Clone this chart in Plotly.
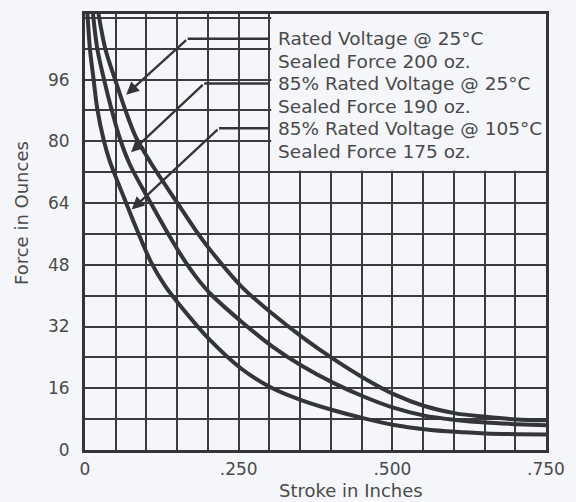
import plotly.graph_objects as go

# ---- data ----
stroke_rated_25 = [0.022, 0.033, 0.049, 0.065, 0.083, 0.108, 0.147, 0.179, 0.204, 0.255,
                   0.305, 0.354, 0.404, 0.454, 0.503, 0.552, 0.603, 0.652, 0.702, 0.750]
force_rated_25 = [113, 104, 96, 88.4, 81, 74.2, 64.8, 57.2, 51.8, 42.3,
                  35.3, 29.2, 23.6, 18.6, 14.4, 11.4, 9.5, 8.6, 7.9, 7.7]

stroke_85_25 = [0.013, 0.020, 0.031, 0.043, 0.057, 0.073, 0.107, 0.134, 0.157, 0.180, 0.204,
                0.255, 0.305, 0.354, 0.404, 0.454, 0.503, 0.552, 0.603, 0.652, 0.702, 0.750]
force_85_25 = [113, 104, 96, 88.4, 80.6, 74, 64, 56.4, 50.3, 45, 40.5,
               33.2, 26.8, 21.7, 17.4, 13.8, 10.9, 8.9, 7.8, 7.1, 6.7, 6.4]

stroke_85_105 = [0.004, 0.008, 0.014, 0.020, 0.030, 0.040, 0.067, 0.086, 0.108, 0.130, 0.154,
                 0.204, 0.255, 0.305, 0.354, 0.404, 0.454, 0.503, 0.552, 0.603, 0.652, 0.702, 0.750]
force_85_105 = [113, 104, 96, 88.4, 80.6, 75, 64, 56.5, 48.5, 42.6, 37.6,
                28.4, 21, 16, 12.8, 10.3, 8.2, 6.5, 5.4, 4.7, 4.3, 4.1, 4.0]

label_line1 = ["Rated Voltage @ 25°C", "85% Rated Voltage @ 25°C", "85% Rated Voltage @ 105°C"]
label_line2 = ["Sealed Force 200 oz.", "Sealed Force 190 oz.", "Sealed Force 175 oz."]
label_y = [106.6, 95.0, 83.4]          # height of each label's leader line
leader_bend_x = [0.167, 0.194, 0.218]  # where leader turns diagonal
arrow_tip_x = [0.067, 0.075, 0.076]
arrow_tip_y = [92.1, 77.2, 62.3]

x_tick_vals = [0, 0.25, 0.5, 0.75]
x_tick_text = ["0", ".250", ".500", ".750"]
y_tick_vals = [0, 16, 32, 48, 64, 80, 96]

X_RANGE = [0, 0.75]
Y_RANGE = [0, 113]
BOX_LEFT = 0.30
BOX_BOTTOM = 72

BG = "#f4f6f9"
INK = "#333538"
GRID = "#3a3c3e"
TEXT = "#4a4a4a"
FONT = "DejaVu Sans"

fig = go.Figure()
for xs, ys in [(stroke_rated_25, force_rated_25),
               (stroke_85_25, force_85_25),
               (stroke_85_105, force_85_105)]:
    fig.add_trace(go.Scatter(
        x=xs, y=ys, mode="lines",
        line=dict(color=INK, width=4, shape="spline", smoothing=0.9),
        showlegend=False, hoverinfo="skip"))

# label box covering the grid in the upper right
fig.add_shape(type="rect", xref="x", yref="y",
              x0=BOX_LEFT + 0.003, x1=X_RANGE[1], y0=BOX_BOTTOM + 0.4, y1=Y_RANGE[1],
              fillcolor=BG, line=dict(width=0), layer="between")

for i in range(3):
    fig.add_shape(type="line", xref="x", yref="y",
                  x0=BOX_LEFT, x1=leader_bend_x[i], y0=label_y[i], y1=label_y[i],
                  line=dict(color=INK, width=2.5))
    fig.add_annotation(x=arrow_tip_x[i], y=arrow_tip_y[i], ax=leader_bend_x[i], ay=label_y[i],
                       xref="x", yref="y", axref="x", ayref="y", text="",
                       showarrow=True, arrowhead=2, arrowsize=1.1, arrowwidth=2.3,
                       arrowcolor=INK)
    fig.add_annotation(x=BOX_LEFT, y=label_y[i], xref="x", yref="y", text=label_line1[i],
                       showarrow=False, xanchor="left", yanchor="middle", xshift=7,
                       font=dict(family=FONT, size=18.5, color=TEXT))
    fig.add_annotation(x=BOX_LEFT, y=label_y[i], xref="x", yref="y", text=label_line2[i],
                       showarrow=False, xanchor="left", yanchor="middle", xshift=7, yshift=-23,
                       font=dict(family=FONT, size=18.5, color=TEXT))

# axis titles
fig.add_annotation(x=(357 - 85) / 471, y=-41 / 439, xref="paper", yref="paper",
                   text="Stroke in Inches", showarrow=False,
                   xanchor="center", yanchor="middle",
                   font=dict(family=FONT, size=18, color=TEXT))
fig.add_annotation(x=-65 / 471, y=(450 - 211) / 439, xref="paper", yref="paper",
                   text="Force in Ounces", textangle=-90, showarrow=False,
                   xanchor="center", yanchor="middle",
                   font=dict(family=FONT, size=18, color=TEXT))

axis_common = dict(showline=True, linewidth=3, linecolor=INK, mirror=True,
                   showgrid=True, gridcolor=GRID, gridwidth=1.7, zeroline=False,
                   ticks="outside", tickcolor="rgba(0,0,0,0)",
                   tickfont=dict(family=FONT, size=17, color=TEXT), fixedrange=True)

fig.update_xaxes(range=X_RANGE, tickmode="array", tickvals=x_tick_vals, ticktext=x_tick_text,
                 ticklen=2,
                 minor=dict(tickmode="linear", tick0=0, dtick=0.05, showgrid=True,
                            gridcolor=GRID, gridwidth=1.7, ticks=""),
                 **axis_common)
fig.update_yaxes(range=Y_RANGE, tickmode="array", tickvals=y_tick_vals,
                 ticklen=9,
                 minor=dict(tickmode="linear", tick0=0, dtick=8, showgrid=True,
                            gridcolor=GRID, gridwidth=1.7, ticks=""),
                 **axis_common)

fig.update_layout(width=576, height=502,
                  margin=dict(l=85, r=20, t=11, b=52),
                  paper_bgcolor=BG, plot_bgcolor=BG, showlegend=False)

fig.write_html("out.html", config={"displayModeBar": False},
               post_script="document.body.style.margin='0';document.body.style.overflow='hidden';")
